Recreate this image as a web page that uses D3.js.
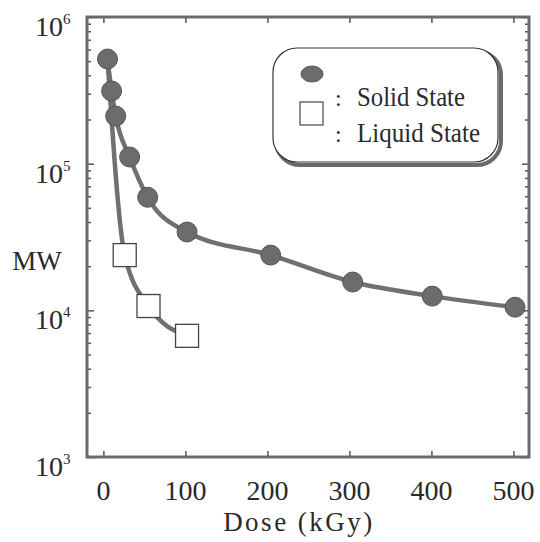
<!DOCTYPE html>
<html>
<head>
<meta charset="utf-8">
<script src="https://cdn.jsdelivr.net/npm/d3@7"></script>
<style>
    body { margin: 0; background: #fff; }
</style>
</head>
<body>
<div id="graph"></div>
<script>
/*
    Molecular weight vs dose, solid and liquid state
*/

// Data
var solidDose = [5, 10, 15, 32, 54, 102, 204, 304, 401, 502]
var solidMW = [517000, 313000, 211000, 111000, 59000, 34200, 23800, 15600, 12500, 10500]

// first liquid point is shared with the solid curve (no square drawn there)
var liquidDose = [5, 26, 55, 102]
var liquidMW = [517000, 23800, 10700, 6700]

var xTicks = [0, 100, 200, 300, 400, 500]
var yDecades = [1e3, 1e4, 1e5, 1e6]
var yExponents = ["3", "4", "5", "6"]

var legendLabels = ["Solid State", "Liquid State"]

var solid = solidDose.map(function (d, i) { return { dose: d, mw: solidMW[i] } })
var liquid = liquidDose.map(function (d, i) { return { dose: d, mw: liquidMW[i] } })

var serif = "'Liberation Serif', 'Times New Roman', Times, 'DejaVu Serif', serif"

/*
    Set the dimensions and margins of the graph
*/
var W = 540, H = 542
var margin = { top: 17, right: 11, bottom: 85, left: 87 },
    width = W - margin.left - margin.right,
    height = H - margin.top - margin.bottom

var svg = d3.select("#graph").append("svg")
    .attr("width", W)
    .attr("height", H)
    .attr("font-family", serif)
    .style("font-family", serif)

var g = svg.append("g")
    .attr("transform", "translate(" + margin.left + "," + margin.top + ")")

var x = d3.scaleLinear().domain([-20, 519]).range([0, width])
var y = d3.scaleLog().domain([1e3, 1e6]).range([height, 0])

// minor ticks of the log axis
var yMinor = []
yDecades.slice(0, 3).forEach(function (dec) {
    for (var k = 2; k <= 9; k++) yMinor.push(dec * k)
})

function styleAxis(sel) {
    sel.select(".domain").remove()
    sel.selectAll("line").attr("stroke", "#555").attr("stroke-width", 1.5)
    sel.selectAll("text").remove()
}

// ticks, all pointing inwards
g.append("g").attr("transform", "translate(0," + height + ")")
    .call(d3.axisBottom(x).tickValues(xTicks).tickSize(-6)).call(styleAxis)
g.append("g")
    .call(d3.axisTop(x).tickValues(xTicks).tickSize(-6)).call(styleAxis)
g.append("g")
    .call(d3.axisLeft(y).tickValues(yDecades).tickSize(-7)).call(styleAxis)
g.append("g")
    .call(d3.axisLeft(y).tickValues(yMinor).tickSize(-4)).call(styleAxis)
g.append("g").attr("transform", "translate(" + width + ",0)")
    .call(d3.axisRight(y).tickValues(yDecades).tickSize(-7)).call(styleAxis)
g.append("g").attr("transform", "translate(" + width + ",0)")
    .call(d3.axisRight(y).tickValues(yMinor).tickSize(-4)).call(styleAxis)

// frame
g.append("rect")
    .attr("width", width)
    .attr("height", height)
    .attr("fill", "none")
    .attr("stroke", "#6a6a6a")
    .attr("stroke-width", 3)

// x tick labels
g.selectAll(".xlab")
    .data(xTicks)
    .enter().append("text")
    .attr("class", "xlab")
    .attr("x", function (d) { return x(d) })
    .attr("y", height + 43)
    .attr("text-anchor", "middle")
    .attr("fill", "#2a2a2a")
    .style("font-size", "28px")
    .text(function (d) { return d })

// y tick labels, 10 with a superscript
var ylab = g.selectAll(".ylab")
    .data(yDecades)
    .enter().append("g")
    .attr("class", "ylab")
    .attr("transform", function (d) { return "translate(-24," + (y(d) + 19) + ")" })
ylab.append("text")
    .attr("text-anchor", "end")
    .attr("fill", "#2a2a2a")
    .style("font-size", "28px")
    .text("10")
ylab.append("text")
    .attr("x", 0)
    .attr("y", -12)
    .attr("fill", "#2a2a2a")
    .style("font-size", "15px")
    .text(function (d, i) { return yExponents[i] })

// axis titles
svg.append("text")
    .attr("x", 37)
    .attr("y", 270)
    .attr("text-anchor", "middle")
    .attr("fill", "#2a2a2a")
    .style("font-size", "27px")
    .text("MW")

svg.append("text")
    .attr("x", 299)
    .attr("y", 531)
    .attr("text-anchor", "middle")
    .attr("fill", "#2a2a2a")
    .style("font-size", "27px")
    .style("letter-spacing", "2.5px")
    .text("Dose (kGy)")

/*
    Curves and markers
*/
var line = d3.line()
    .x(function (d) { return x(d.dose) })
    .y(function (d) { return y(d.mw) })
    .curve(d3.curveMonotoneX)

g.append("path")
    .attr("d", line(liquid))
    .attr("fill", "none")
    .attr("stroke", "#707070")
    .attr("stroke-width", 4.5)

g.append("path")
    .attr("d", line(solid))
    .attr("fill", "none")
    .attr("stroke", "#707070")
    .attr("stroke-width", 4.5)

var sq = 23
g.selectAll(".sq")
    .data(liquid.slice(1))
    .enter().append("rect")
    .attr("class", "sq")
    .attr("x", function (d) { return x(d.dose) - sq / 2 })
    .attr("y", function (d) { return y(d.mw) - sq / 2 })
    .attr("width", sq)
    .attr("height", sq)
    .attr("fill", "#fff")
    .attr("stroke", "#444")
    .attr("stroke-width", 1.3)

g.selectAll(".dot")
    .data(solid)
    .enter().append("circle")
    .attr("class", "dot")
    .attr("cx", function (d) { return x(d.dose) })
    .attr("cy", function (d) { return y(d.mw) })
    .attr("r", 10)
    .attr("fill", "#6c6c6c")
    .attr("stroke", "#555")
    .attr("stroke-width", 1)

/*
    Legend
*/
var leg = svg.append("g").attr("transform", "translate(273,48)")

leg.append("rect")
    .attr("x", 3).attr("y", 3)
    .attr("width", 225).attr("height", 114)
    .attr("rx", 24)
    .attr("fill", "none")
    .attr("stroke", "#6a6a6a")
    .attr("stroke-width", 4)
leg.append("rect")
    .attr("width", 225).attr("height", 114)
    .attr("rx", 24)
    .attr("fill", "#fff")
    .attr("stroke", "#333")
    .attr("stroke-width", 1.2)

leg.append("ellipse")
    .attr("cx", 39).attr("cy", 26)
    .attr("rx", 11).attr("ry", 8)
    .attr("fill", "#6c6c6c")
    .attr("stroke", "#555")
leg.append("rect")
    .attr("x", 27).attr("y", 54)
    .attr("width", 23).attr("height", 23)
    .attr("fill", "#fff")
    .attr("stroke", "#444")
    .attr("stroke-width", 1.2)

var legY = [58, 94]
var legW = [108, 123]
legendLabels.forEach(function (lab, i) {
    leg.append("text")
        .attr("x", 62).attr("y", legY[i])
        .attr("fill", "#2a2a2a")
        .style("font-size", "24px")
        .text(":")
    leg.append("text")
        .attr("x", 84).attr("y", legY[i])
        .attr("textLength", legW[i])
        .attr("lengthAdjust", "spacingAndGlyphs")
        .attr("fill", "#2a2a2a")
        .style("font-size", "28px")
        .text(lab)
})
</script>
</body>
</html>
